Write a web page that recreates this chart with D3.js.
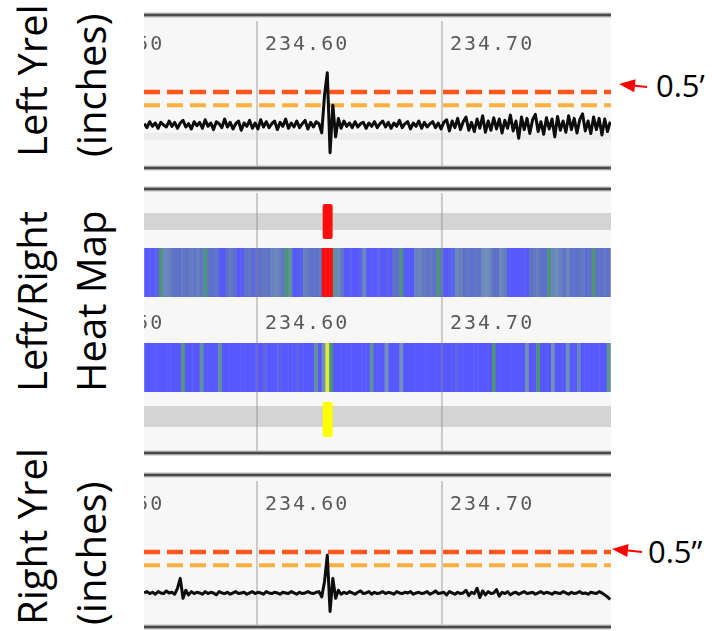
<!DOCTYPE html>
<html>
<head>
<meta charset="utf-8">
<script src="https://cdn.jsdelivr.net/npm/d3@7"></script>
<style>
  html, body { margin: 0; padding: 0; background: #ffffff; }
  svg { display: block; }
</style>
</head>
<body>
<svg id="chart" width="712" height="631"></svg>
<script>
// ---------------- DATA ----------------
const xDomain = [234.5389, 234.7914];
const tickValues = [234.5, 234.6, 234.7];
const tickLabels = ["234.50", "234.60", "234.70"];
const thresholdValues = [0.5, 0.3];          // inches
const thresholdColors = ["#ff561a", "#fbb040"];

const sampleStart = 234.539;
const sampleStep = 0.0015;
const leftYrel = [
  0.02,-0.04,0.05,-0.02,0.03,-0.05,0.04,0.00,-0.03,0.06,-0.02,0.04,-0.05,0.03,0.07,-0.03,0.02,-0.06,0.05,-0.01,
  0.04,-0.05,0.08,-0.02,0.03,-0.07,0.05,0.02,-0.04,0.09,-0.03,0.04,-0.06,0.02,0.06,-0.08,0.03,-0.02,0.07,-0.05,
  0.03,-0.06,0.08,-0.03,0.05,-0.04,0.02,0.06,-0.07,0.04,-0.02,0.09,-0.05,0.03,-0.03,0.06,-0.04,0.02,0.07,-0.06,
  0.04,-0.03,0.05,0.02,-0.12,0.45,0.79,-0.42,0.30,-0.18,
  0.10,-0.05,0.06,-0.02,0.03,-0.04,0.05,-0.03,0.02,0.04,-0.05,0.03,-0.02,0.05,-0.04,0.02,0.06,-0.03,0.04,-0.05,
  0.03,-0.02,0.07,-0.04,0.02,0.05,-0.06,0.03,-0.02,0.06,-0.05,0.04,-0.03,0.02,0.05,-0.04,0.03,-0.06,0.04,0.08,
  -0.09,0.06,-0.04,0.10,-0.07,0.05,0.12,-0.08,0.04,-0.10,0.09,-0.05,0.14,-0.11,0.06,-0.08,0.11,-0.06,0.09,-0.12,
  0.07,-0.05,0.15,-0.09,0.06,-0.20,0.12,-0.07,0.10,-0.13,0.08,0.16,-0.10,0.05,-0.14,0.11,-0.06,0.09,-0.18,0.13,
  -0.08,0.06,-0.11,0.14,-0.07,0.10,-0.12,0.08,0.17,-0.09,0.06,-0.13,0.12,-0.07,0.10,-0.15,0.09,-0.10,0.05
];
const rightYrel = [
  -0.12,-0.10,-0.13,-0.11,-0.14,-0.10,-0.12,-0.13,-0.09,-0.12,-0.11,-0.14,-0.05,0.10,-0.20,-0.08,-0.15,-0.10,-0.13,-0.11,
  -0.12,-0.14,-0.10,-0.13,-0.11,-0.12,-0.15,-0.10,-0.12,-0.13,-0.11,-0.14,-0.12,-0.10,-0.13,-0.12,-0.11,-0.14,-0.12,-0.10,
  -0.13,-0.11,-0.12,-0.14,-0.10,-0.12,-0.13,-0.11,-0.12,-0.14,-0.11,-0.12,-0.13,-0.10,-0.12,-0.14,-0.11,-0.13,-0.12,-0.10,
  -0.12,-0.13,-0.11,-0.10,-0.18,0.05,0.45,-0.40,0.10,-0.20,
  -0.08,-0.14,-0.11,-0.13,-0.10,-0.12,-0.14,-0.11,-0.09,-0.13,-0.12,-0.10,-0.14,-0.11,-0.13,-0.12,-0.10,-0.13,-0.11,-0.12,
  -0.14,-0.10,-0.12,-0.13,-0.11,-0.12,-0.10,-0.14,-0.12,-0.11,-0.13,-0.12,-0.10,-0.14,-0.12,-0.09,-0.13,-0.12,-0.11,-0.15,
  -0.10,-0.12,-0.14,-0.11,-0.13,-0.12,-0.08,-0.16,-0.11,-0.13,-0.05,-0.19,-0.09,-0.15,-0.10,-0.13,-0.12,-0.07,-0.17,-0.11,
  -0.13,-0.10,-0.15,-0.12,-0.11,-0.14,-0.12,-0.10,-0.13,-0.12,-0.11,-0.14,-0.12,-0.10,-0.13,-0.11,-0.12,-0.14,-0.11,-0.12,
  -0.13,-0.10,-0.12,-0.14,-0.11,-0.13,-0.12,-0.10,-0.13,-0.12,-0.14,-0.11,-0.12,-0.13,-0.10,-0.12,-0.15,-0.18,-0.22
];

const heatStart = 234.539;
const heatStep = 0.002;
const leftHeat = [
  0,0.05,0,0.1, 0.5, 0.35,0.33,0.28, 0.25,0.22,0.28,0.25, 0.3,0.27,0.32,0.26, 0.5, 0.25,0.22,0.27,
  0.05,0, 0.25,0.28,0.22, 0,0.05, 0.25,0.28, 0.15,0.2, 0.25,0.28,0.24, 0.33,0.36,0.32,0.28, 0.5,0.45,
  0,0.05,0.1, 0.32,0.28,0.25, 0.22,0.28, 1,1,1, 0.45,0.36,0.28, 0,0.05,0,0,0.1, 0.35,
  0,0.05,0,0.1, 0,0.05,0, 0.25,0.22, 0.5, 0,0.05,0, 0.32,0.35,0.28, 0.25,0.28,0.22, 0.5, 0.2,
  0,0.05,0.1, 0.36,0.32, 0.25,0.28,0.22,0.27,0.25, 0.36,0.4,0.34, 0.25,0.22, 0.36,0.32, 0.05,0,
  0,0,0.05,0, 0.25,0.28,0.3,0.25,0.22, 0.5, 0.34,0.38,0.32, 0.25, 0.36, 0.25,0.22, 0.25,0.28,0.2,0.24, 0.5,
  0.25,0.22,0.28,0.25
];
const rightHeat = [
  0,0,0,0,0,0,0,0,0,0, 0.48,0,0,0,0, 0.45,0,0,0,0,
  0.45,0,0,0,0,0,0,0,0,0, 0,0,0.15,0,0,0, 0.12,0,0,0,
  0,0.12,0,0,0,0, 0.45,0, 0.4,0.75,0.5,0, 0,0,0,0,0,0,0,0,
  0,0.45,0,0,0, 0.4,0,0,0, 0.4,0,0,0,0,0,0,0,0,0,0,
  0,0,0,0, 0.12,0,0,0,0,0, 0,0,0,0, 0.5,0,0,0,0,0,
  0,0,0, 0.4,0,0, 0.5,0,0,0, 0.4,0,0,0, 0.4,0,0, 0.35,0,0,
  0,0,0,0,0, 0.45
];
const heatStops = [0, 0.25, 0.4, 0.5, 0.8, 1];
const heatColors = ["#5858ff", "#5e72c6", "#7191b8", "#4d9576", "#ffff20", "#ff1010"];
const spikeAt = 234.6384;

const rowLabels = [["Left Yrel", "(inches)"], ["Left/Right", "Heat Map"], ["Right Yrel", "(inches)"]];
const annotationLabels = ["0.5\u2019", "0.5\u201D"];

// ---------------- DRAW ----------------
const svg = d3.select("#chart");
const X0 = 144, X1 = 611;
const x = d3.scaleLinear().domain(xDomain).range([X0, X1]);
const heatColor = d3.scaleLinear().domain(heatStops).range(heatColors).clamp(true);

const defs = svg.append("defs");
defs.append("clipPath").attr("id", "clip")
  .append("rect").attr("x", X0).attr("y", 0).attr("width", X1 - X0).attr("height", 631);
defs.append("filter").attr("id", "soft").attr("x", "-5%").attr("y", "-5%").attr("width", "110%").attr("height", "110%")
  .append("feGaussianBlur").attr("stdDeviation", 0.6);

const panels = [
  { top: 15, bottom: 168, type: "trace", data: leftYrel, labelY: 50 },
  { top: 189, bottom: 453, type: "heat", labelY: 329 },
  { top: 475, bottom: 627, type: "trace", data: rightYrel, labelY: 510 }
];

panels.forEach(p => {
  const outer = svg.append("g").attr("filter", "url(#soft)");
  const g = outer.append("g").attr("clip-path", "url(#clip)");
  g.append("rect").attr("x", X0).attr("y", p.top).attr("width", X1 - X0)
    .attr("height", p.bottom - p.top).attr("fill", "#f7f7f7");

  if (p.type === "trace") {
    const y = d3.scaleLinear().domain([0, 0.5]).range([p.top + 110, p.top + 77]);
    g.append("rect").attr("x", X0).attr("width", X1 - X0)
      .attr("y", y(-0.12)).attr("height", 7).attr("fill", "#ececec");
    g.selectAll(".grid").data(tickValues).join("line")
      .attr("x1", d => x(d)).attr("x2", d => x(d))
      .attr("y1", p.top + 6).attr("y2", p.bottom - 2)
      .attr("stroke", "#cbcbcb").attr("stroke-width", 2);
    g.selectAll(".tl").data(tickValues).join("text")
      .attr("x", d => x(d) + 8).attr("y", p.labelY)
      .attr("font-family", "DejaVu Sans Mono").attr("font-size", 20)
      .attr("letter-spacing", 2).attr("fill", "#5a5a5a")
      .text((d, i) => tickLabels[i]);
    g.selectAll(".th").data(thresholdValues).join("line")
      .attr("x1", X0).attr("x2", X1)
      .attr("y1", d => y(d)).attr("y2", d => y(d))
      .attr("stroke", (d, i) => thresholdColors[i])
      .attr("stroke-width", (d, i) => i === 0 ? 4.5 : 4)
      .attr("stroke-dasharray", "16 7");
    const line = d3.line()
      .x((d, i) => x(sampleStart + i * sampleStep))
      .y(d => y(d));
    g.append("path").datum(p.data).attr("d", line)
      .attr("fill", "none").attr("stroke", "#0a0a0a").attr("stroke-width", 3)
      .attr("stroke-linejoin", "round");
  } else {
    g.append("rect").attr("x", X0).attr("width", X1 - X0).attr("y", 213).attr("height", 17).attr("fill", "#d4d4d4");
    g.append("rect").attr("x", X0).attr("width", X1 - X0).attr("y", 406).attr("height", 21).attr("fill", "#d4d4d4");
    const bands = [{ data: leftHeat, y0: 248, y1: 297 }, { data: rightHeat, y0: 343, y1: 392 }];
    bands.forEach(b => {
      g.selectAll(null).data(b.data).join("rect")
        .attr("x", (d, i) => x(heatStart + i * heatStep))
        .attr("width", (d, i) => x(heatStart + (i + 1) * heatStep) - x(heatStart + i * heatStep) + 0.5)
        .attr("y", b.y0).attr("height", b.y1 - b.y0)
        .attr("fill", d => heatColor(d));
    });
    g.selectAll(".grid").data(tickValues).join("line")
      .attr("x1", d => x(d)).attr("x2", d => x(d))
      .attr("y1", p.top + 4).attr("y2", p.bottom - 2)
      .attr("stroke", "#8a8a8a").attr("stroke-opacity", 0.4).attr("stroke-width", 2);
    g.selectAll(".tl").data(tickValues).join("text")
      .attr("x", d => x(d) + 8).attr("y", p.labelY)
      .attr("font-family", "DejaVu Sans Mono").attr("font-size", 20)
      .attr("letter-spacing", 2).attr("fill", "#5a5a5a")
      .text((d, i) => tickLabels[i]);
    const mx0 = x(spikeAt - 0.0029), mx1 = x(spikeAt + 0.0025);
    g.append("rect").attr("x", mx0).attr("width", mx1 - mx0).attr("y", 204).attr("height", 35)
      .attr("rx", 2).attr("fill", heatColor(1));
    g.append("rect").attr("x", mx0).attr("width", mx1 - mx0).attr("y", 402).attr("height", 35)
      .attr("rx", 2).attr("fill", "#ffff00");
  }

  [p.top, p.bottom].forEach(yy => {
    outer.append("line").attr("x1", X0).attr("x2", X1).attr("y1", yy).attr("y2", yy)
      .attr("stroke", "#bdbdbd").attr("stroke-width", 5);
    outer.append("line").attr("x1", X0).attr("x2", X1).attr("y1", yy).attr("y2", yy)
      .attr("stroke", "#4a4a4a").attr("stroke-width", 2.5);
  });
});

// row labels (rotated)
const labelStarts = [157, 392, 625];
rowLabels.forEach((pair, r) => {
  pair.forEach((txt, k) => {
    const bx = k === 0 ? 47 : 106;
    svg.append("text")
      .attr("transform", `translate(${bx},${labelStarts[r]}) rotate(-90)`)
      .attr("font-family", "Open Sans").attr("font-size", 40).attr("fill", "#000")
      .attr("text-anchor", "start")
      .text(txt);
  });
});

// annotations (red arrows pointing at the 0.5 threshold)
const yTop = d3.scaleLinear().domain([0, 0.5]).range([125, 92]);
const yBot = d3.scaleLinear().domain([0, 0.5]).range([585, 552]);
const ann = [
  { tipX: 619, tipY: yTop(0.5) - 8, tailX: 647, tailY: yTop(0.5) - 5, tx: 656, ty: yTop(0.5) + 5 },
  { tipX: 612, tipY: yBot(0.5) - 3, tailX: 642, tailY: yBot(0.5), tx: 648, ty: yBot(0.5) + 11 }
];
ann.forEach((a, i) => {
  const ang = Math.atan2(a.tailY - a.tipY, a.tailX - a.tipX);
  const L = 16, H = 6.5;
  const bx = a.tipX + L * Math.cos(ang), by = a.tipY + L * Math.sin(ang);
  const px = -Math.sin(ang) * H, py = Math.cos(ang) * H;
  svg.append("line").attr("x1", a.tailX).attr("y1", a.tailY).attr("x2", bx).attr("y2", by)
    .attr("stroke", "#ff0000").attr("stroke-width", 2);
  svg.append("path")
    .attr("d", `M${a.tipX},${a.tipY} L${bx + px},${by + py} L${bx - px},${by - py} Z`)
    .attr("fill", "#ff0000");
  svg.append("text").attr("x", a.tx).attr("y", a.ty)
    .attr("font-family", "Open Sans").attr("font-size", 31).attr("fill", "#000")
    .text(annotationLabels[i]);
});
</script>
</body>
</html>
